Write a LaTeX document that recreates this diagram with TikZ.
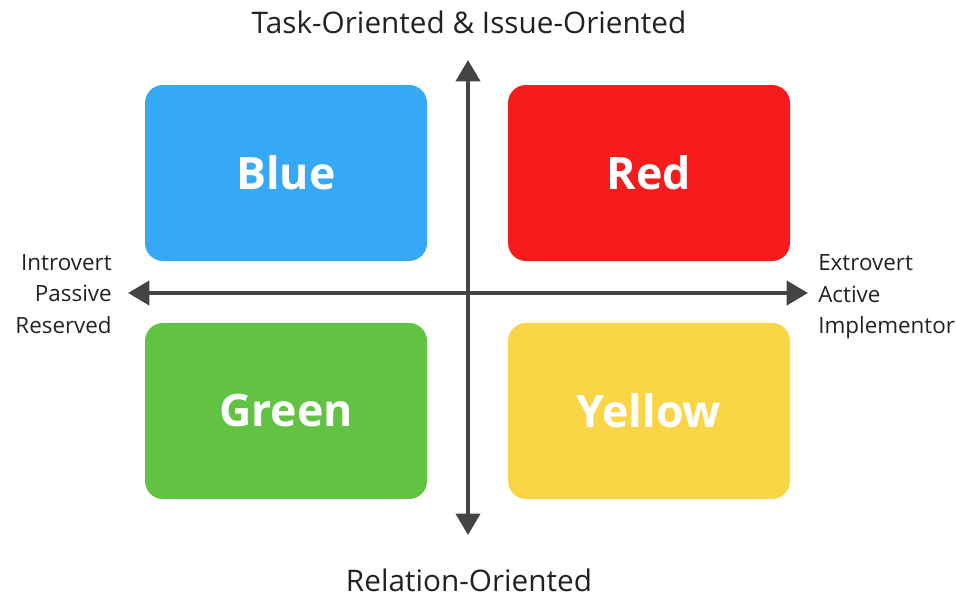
\documentclass[tikz,border=0pt]{standalone}
\usepackage{fontspec}
\setmainfont{Open Sans}
\usetikzlibrary{arrows.meta}
\definecolor{cblue}{HTML}{36A9F6}
\definecolor{cred}{HTML}{F71C1C}
\definecolor{cgreen}{HTML}{62C342}
\definecolor{cyellow}{HTML}{FAD546}
\definecolor{axisgray}{HTML}{444444}
\definecolor{txtgray}{HTML}{222222}
\tikzset{
  quad/.style={rounded corners=18*0.75pt, minimum width=282*0.75pt, minimum height=176*0.75pt, inner sep=0pt, text=white, font=\fontsize{33.5}{38}\selectfont\bfseries},
  axis/.style={line width=3pt, draw=axisgray, -{Triangle[width=18pt,length=16pt]}},
  lab/.style={text=txtgray, font=\fontsize{22.3}{28}\selectfont, inner sep=0pt},
  side/.style={text=txtgray, font=\fontsize{16.8}{23.6}\selectfont, inner sep=0pt}
}
\begin{document}
\begin{tikzpicture}[x=0.75pt,y=-0.75pt]
\useasboundingbox (0,0) rectangle (956,600);
\node[quad, fill=cblue] (blue) at (286,173) {Blue};
\node[quad, fill=cred] (red) at (649,173) {Red};
\node[quad, fill=cgreen] (green) at (286,411) {Green};
\node[quad, fill=cyellow] (yellow) at (649,411) {Yellow};
\coordinate (c) at (468,293);
\coordinate (top) at (468,60);
\coordinate (bot) at (468,535);
\coordinate (left) at (128,293);
\coordinate (right) at (808,293);
\draw[axis] (c) -- (top);
\draw[axis] (c) -- (bot);
\draw[axis] (c) -- (left);
\draw[axis] (c) -- (right);
\node[lab] (tl) at (469,22) {Task-Oriented \& Issue-Oriented};
\node[lab] (bl) at (469,580) {Relation-Oriented};
\node[side, anchor=east, align=right] (ll) at (112,294) {Introvert\\Passive\\Reserved};
\node[side, anchor=west, align=left] (rl) at (818,297) {Extrovert\\Active\\Implementor};
\end{tikzpicture}
\end{document}
